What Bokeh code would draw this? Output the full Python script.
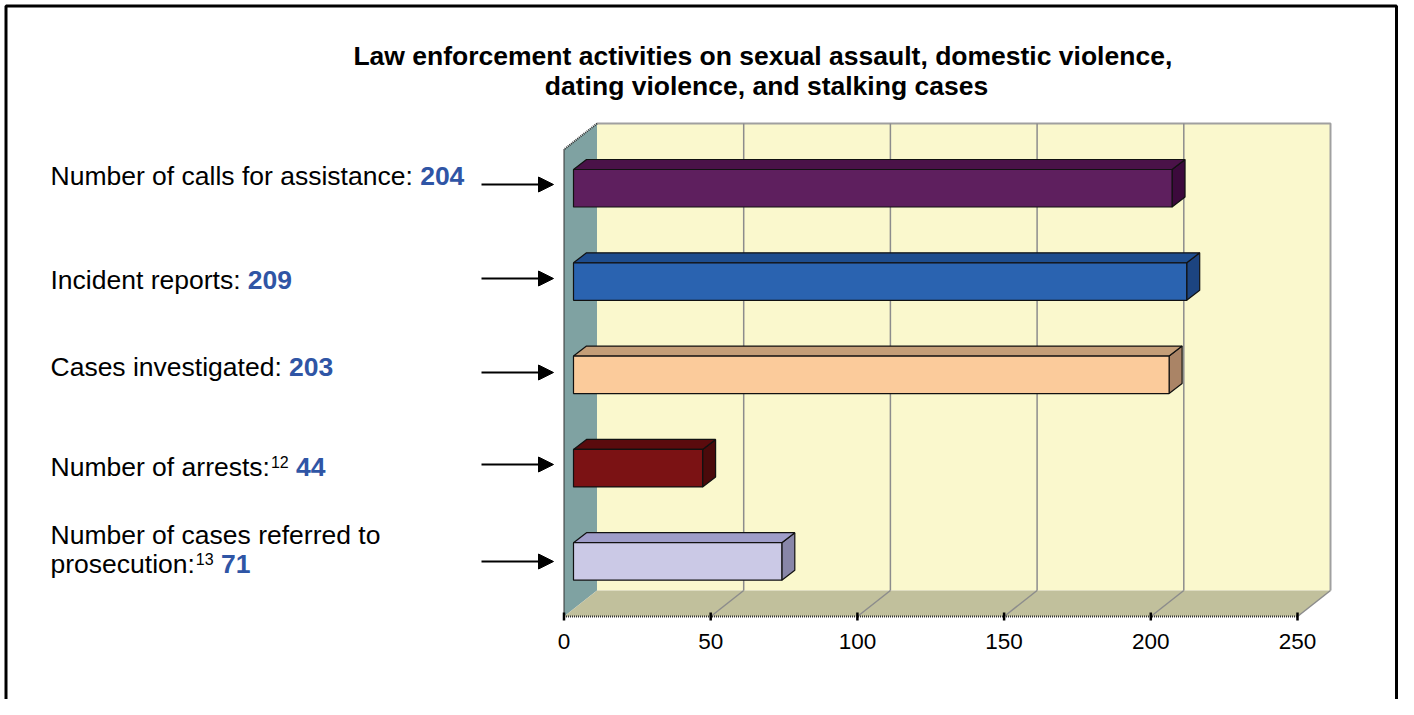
from bokeh.plotting import figure
from bokeh.models import Range1d, Arrow, NormalHead
from bokeh.core.properties import value
from bokeh.embed import file_html
from bokeh.resources import INLINE

# ---------------- data ----------------
title_lines = ["Law enforcement activities on sexual assault,  domestic violence,",
               "dating violence, and stalking cases"]
categories = ["Number of calls for assistance:",
              "Incident reports:",
              "Cases investigated:",
              "Number of arrests:",
              "Number of cases referred to\nprosecution:"]
footnotes = ["", "", "", "12", "13"]
values = [204, 209, 203, 44, 71]
ticks = [0, 50, 100, 150, 200, 250]

front_colors = ["#5E1F5E", "#2A63B0", "#FBCB9B", "#7B1214", "#CBC9E6"]
top_colors = ["#4A1248", "#1E4D8E", "#C49E78", "#5A0B0D", "#9F9DC9"]
side_colors = ["#3C0A3C", "#1C4480", "#AA8466", "#4A0A0B", "#8886A8"]

# ---------------- layout (pixels -> data) ----------------
FONT = value("Liberation Sans")
W, HGT = 1398, 699
X0 = 563.5          # x pixel of value 0 on the front floor edge
S = 2.934           # px per unit
def xu(px):
    return (px - X0) / S

FRONT_Y = 616.0     # floor front edge
WDX, WDY = 33.0 / S, -26.0   # wall depth offset
WALL_TOP = 149.0
BFX = 9.5 / S       # bar front plane offset
BDX, BDY = 13.0 / S, -10.0   # bar depth
Y0, DY, H = 187.75, 93.3, 37.5
XMAX = ticks[-1]

p = figure(width=W, height=HGT, output_backend="svg", toolbar_location=None,
           x_range=Range1d(xu(0), xu(W)), y_range=Range1d(HGT, 0),
           x_axis_location=None, y_axis_location=None, min_border=0,
           background_fill_color="white", border_fill_color="white")
p.grid.visible = False
p.outline_line_color = None

# outer border (left, top, right)
p.line(x=[xu(5.5), xu(5.5), xu(W - 2), xu(W - 2)], y=[HGT, 5.5, 5.5, HGT],
       line_color="black", line_width=3)

# back wall
p.quad(left=WDX, right=XMAX + WDX, top=WALL_TOP + WDY, bottom=FRONT_Y + WDY,
       fill_color="#FAF8CD", line_color=None)
p.line(x=[WDX, XMAX + WDX, XMAX + WDX], y=[WALL_TOP + WDY, WALL_TOP + WDY, FRONT_Y + WDY],
       line_color="#A0A0A0", line_width=2)
# left wall
p.patch(x=[0, 0, WDX, WDX], y=[FRONT_Y, WALL_TOP, WALL_TOP + WDY, FRONT_Y + WDY],
        fill_color="#7FA2A2", line_color=None)
# floor
p.patch(x=[0, XMAX, XMAX + WDX, WDX], y=[FRONT_Y, FRONT_Y, FRONT_Y + WDY, FRONT_Y + WDY],
        fill_color="#C1C09C", line_color=None)

# gridlines on back wall and floor
inner = [t for t in ticks if 0 < t < XMAX]
p.segment(x0=[t + WDX for t in inner], y0=[FRONT_Y + WDY] * len(inner),
          x1=[t + WDX for t in inner], y1=[WALL_TOP + WDY] * len(inner),
          line_color="#8C8C8C", line_width=1.5)
floor_t = [t for t in ticks if t > 0]
p.segment(x0=floor_t, y0=[FRONT_Y] * len(floor_t),
          x1=[t + WDX for t in floor_t], y1=[FRONT_Y + WDY] * len(floor_t),
          line_color="#8C8C8C", line_width=1.5)

# dotted front edges
p.line(x=[0, 0, WDX], y=[FRONT_Y, WALL_TOP, WALL_TOP + WDY], line_color="#333333",
       line_width=2, line_dash="1 1")
p.line(x=[0, XMAX], y=[FRONT_Y, FRONT_Y], line_color="#333333", line_width=2, line_dash="1 1")

# tick marks and tick labels
p.segment(x0=ticks, y0=[FRONT_Y - 4] * len(ticks), x1=ticks, y1=[FRONT_Y + 4] * len(ticks),
          line_color="black", line_width=2.5)
p.text(x=ticks, y=[641] * len(ticks), text=[str(t) for t in ticks], text_font=FONT,
       text_font_size="22.5px", text_align="center", text_baseline="middle", text_color="black")

# 3D bars
fx0, fx1, ftop, fbot = [], [], [], []
txs, tys, sxs, sys_ = [], [], [], []
for i, v in enumerate(values):
    yc = Y0 + i * DY
    top, bot = yc - H / 2, yc + H / 2
    x0, x1 = BFX, BFX + v
    fx0.append(x0); fx1.append(x1); ftop.append(top); fbot.append(bot)
    txs.append([x0, x1, x1 + BDX, x0 + BDX]); tys.append([top, top, top + BDY, top + BDY])
    sxs.append([x1, x1 + BDX, x1 + BDX, x1]); sys_.append([top, top + BDY, bot + BDY, bot])

p.patches(xs=sxs, ys=sys_, fill_color=side_colors, line_color="#111111", line_width=1.2)
p.patches(xs=txs, ys=tys, fill_color=top_colors, line_color="#111111", line_width=1.2)
p.quad(left=fx0, right=fx1, top=ftop, bottom=fbot, fill_color=front_colors,
       line_color="#111111", line_width=1.2)

# title
p.text(x=[xu(766)] * 2, y=[55, 85], text=title_lines, text_font=FONT, text_font_size="26.5px",
       text_font_style="bold", text_align="center", text_baseline="middle", text_color="black")

# left labels
AW = {' ': 278, ':': 278, 'N': 722, 'I': 278, 'C': 722, 'a': 556, 'b': 556, 'c': 500,
      'd': 556, 'e': 556, 'f': 278, 'g': 556, 'i': 222, 'l': 222, 'm': 833, 'n': 556,
      'o': 556, 'p': 556, 'r': 333, 's': 500, 't': 278, 'u': 556, 'v': 500}
def tw(s, size):
    return sum(AW.get(c, 556) for c in s) * size / 1000.0

LX = 50.0
LSIZE = 26.5
SUPSIZE = 16.0
LINE_GAP = 29.5
label_y = [175, 279, 366, 466, 563.5]
arrow_y = [184, 278, 372, 464, 561]

reg_x, reg_y, reg_t = [], [], []
sup_x, sup_y, sup_t = [], [], []
num_x, num_y, num_t = [], [], []
for i, cat in enumerate(categories):
    lines = cat.split("\n")
    n = len(lines)
    for k, ln in enumerate(lines):
        reg_x.append(xu(LX)); reg_y.append(label_y[i] - (n - 1 - k) * LINE_GAP); reg_t.append(ln)
    end = LX + tw(lines[-1], LSIZE)
    if footnotes[i]:
        sup_x.append(xu(end + 1)); sup_y.append(label_y[i] - 5); sup_t.append(footnotes[i])
        end = end + 1 + tw(footnotes[i], SUPSIZE)
    num_x.append(xu(end + tw(" ", LSIZE))); num_y.append(label_y[i]); num_t.append(str(values[i]))

p.text(x=reg_x, y=reg_y, text=reg_t, text_font=FONT, text_font_size=f"{LSIZE}px",
       text_baseline="middle", text_color="black")
p.text(x=sup_x, y=sup_y, text=sup_t, text_font=FONT, text_font_size=f"{SUPSIZE}px",
       text_baseline="middle", text_color="black")
p.text(x=num_x, y=num_y, text=num_t, text_font=FONT, text_font_size=f"{LSIZE}px",
       text_font_style="bold", text_baseline="middle", text_color="#2F55A5")

# arrows
for ay in arrow_y:
    p.add_layout(Arrow(end=NormalHead(size=15, fill_color="black", line_color="black"),
                       x_start=xu(481), y_start=ay, x_end=xu(553), y_end=ay,
                       line_color="black", line_width=1.8))

open("out.html", "w").write(file_html(p, INLINE))
